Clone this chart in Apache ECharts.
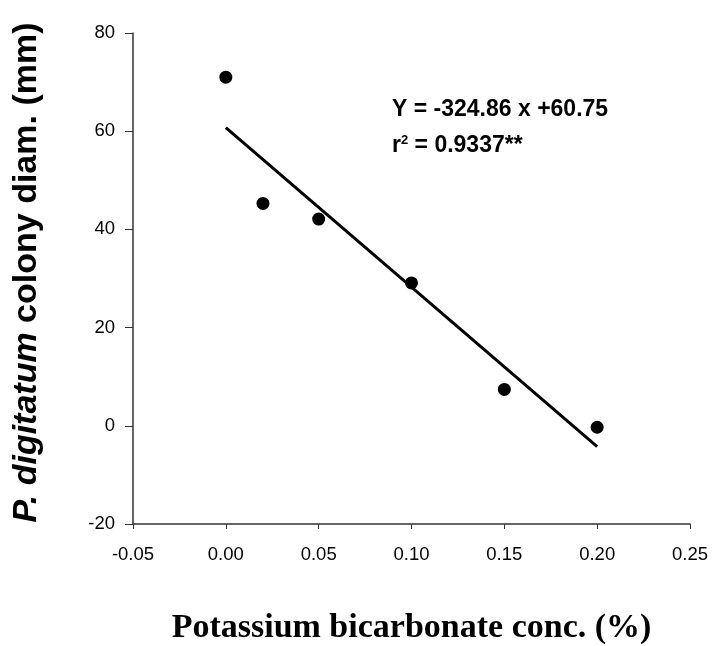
<!DOCTYPE html>
<html>
<head>
<meta charset="utf-8">
<script src="https://cdn.jsdelivr.net/npm/echarts@6/dist/echarts.min.js"></script>
<style>
html,body{margin:0;padding:0;background:#fff;}
#chart{width:724px;height:646px;}
</style>
</head>
<body>
<div id="chart"></div>
<script>
// Data
var concentrations = [0.00, 0.02, 0.05, 0.10, 0.15, 0.20];
var colonyDiam = [71.0, 45.3, 42.1, 29.1, 7.4, -0.3];
var fitX = [0.00, 0.20];
var fitY = [60.75, -4.22];
var equationText = 'Y = -324.86 x +60.75';
var r2Text = '0.9337**';
var xTickMin = -0.05, xTickMax = 0.25, xTickStep = 0.05;
var yTickMin = -20, yTickMax = 80, yTickStep = 20;

var points = concentrations.map(function (x, i) { return [x, colonyDiam[i]]; });
var fitLine = fitX.map(function (x, i) { return [x, fitY[i]]; });

var chart = echarts.init(document.getElementById('chart'));
var sans = '"Liberation Sans", Arial, sans-serif';
chart.setOption({
  animation: false,
  backgroundColor: '#fff',
  grid: { left: 133, top: 33, width: 557, height: 491, outerBoundsMode: 'none' },
  xAxis: {
    type: 'value',
    min: xTickMin, max: xTickMax, interval: xTickStep,
    name: 'Potassium bicarbonate conc. (%)',
    nameLocation: 'middle',
    nameGap: 87,
    nameTextStyle: { fontFamily: '"Liberation Serif", "Times New Roman", serif', fontWeight: 'bold', fontSize: 34, color: '#000' },
    axisLine: { onZero: false, lineStyle: { color: '#333', width: 1.5 } },
    axisTick: { inside: false, length: 5, lineStyle: { color: '#333', width: 1 } },
    axisLabel: { margin: 21, fontFamily: sans, fontSize: 18.5, color: '#000',
      formatter: function (v) { return v.toFixed(2); } },
    splitLine: { show: false }
  },
  yAxis: {
    type: 'value',
    min: yTickMin, max: yTickMax, interval: yTickStep,
    name: '{i|P. digitatum} colony diam. (mm)',
    nameLocation: 'middle',
    nameGap: 89,
    nameRotate: 90,
    nameTextStyle: {
      fontFamily: sans, fontWeight: 'bold', fontSize: 34, color: '#000',
      padding: [0, 0, 0, 12],
      rich: { i: { fontFamily: sans, fontWeight: 'bold', fontStyle: 'italic', fontSize: 34, color: '#000' } }
    },
    axisLine: { onZero: false, lineStyle: { color: '#333', width: 1.5 } },
    axisTick: { inside: false, length: 8, lineStyle: { color: '#333', width: 1 } },
    axisLabel: { margin: 18, fontFamily: sans, fontSize: 18.5, color: '#000' },
    splitLine: { show: false }
  },
  series: [
    {
      type: 'line',
      data: fitLine,
      showSymbol: false,
      symbol: 'none',
      lineStyle: { color: '#000', width: 3 },
      silent: true
    },
    {
      type: 'scatter',
      data: points,
      symbol: 'circle',
      symbolSize: 13,
      itemStyle: { color: '#000', opacity: 1 }
    }
  ],
  graphic: [
    {
      type: 'text',
      left: 392, top: 98,
      style: { text: equationText, font: 'bold 23px ' + sans, fill: '#000' }
    },
    {
      type: 'text',
      left: 392, top: 134,
      style: {
        text: 'r{sup|2} = ' + r2Text,
        font: 'bold 23px ' + sans, fill: '#000',
        rich: { sup: { font: 'bold 13px ' + sans, fill: '#000', verticalAlign: 'top', padding: [0, 0, 10, 0] } }
      }
    }
  ]
});
</script>
</body>
</html>
